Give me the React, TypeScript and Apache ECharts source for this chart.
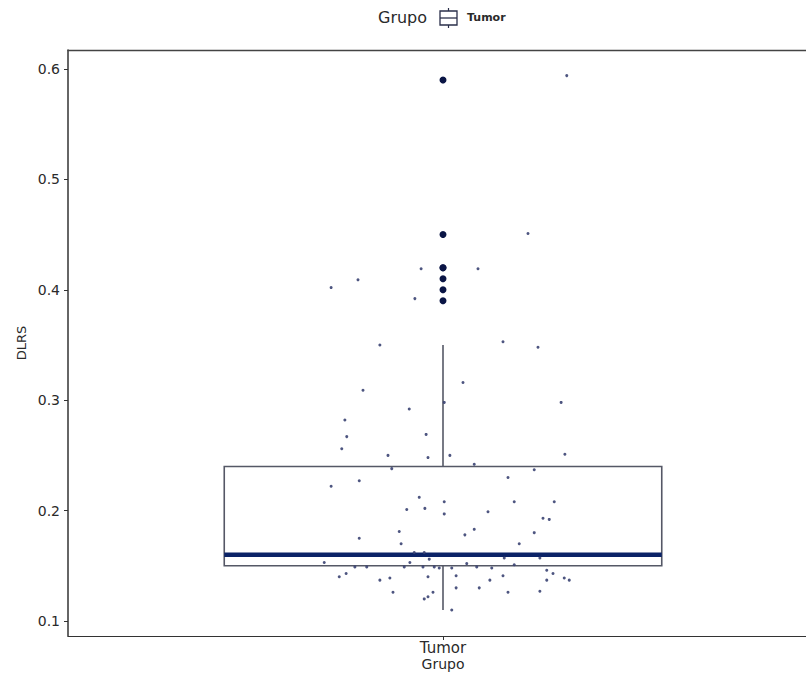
import React, { useEffect, useRef } from "react";
import * as echarts from "echarts";

const categories = ["Tumor"];
// boxplot stats: [lower whisker, Q1, median, Q3, upper whisker]
const boxStats = [0.11, 0.15, 0.16, 0.24, 0.35];
const outliers = [0.59, 0.45, 0.42, 0.42, 0.41, 0.40, 0.39];
// jittered observations: horizontal jitter (in category units) and DLRS value
const jitterX = [
  0.198, 0.136, -0.035, 0.056, -0.136, -0.179, -0.045, -0.101, 0.096, 0.152,
  0.032, -0.128, 0.002, 0.189, -0.054, -0.157, -0.154, -0.027, -0.162, -0.088,
  -0.024, 0.011, 0.195, 0.05, -0.082, 0.146, 0.104, -0.179, -0.134, -0.038,
  0.002, -0.029, -0.058, 0.002, 0.114, 0.178, 0.072, 0.16, 0.17, -0.07,
  -0.134, -0.067, 0.05, 0.146, 0.035, 0.122, -0.046, -0.03, -0.022, -0.19,
  -0.053, 0.098, 0.155, 0.038, 0.114, -0.141, -0.122, -0.062, -0.032, -0.014,
  -0.006, 0.014, 0.054, 0.078, 0.166, 0.176, -0.166, -0.155, -0.101, -0.085,
  -0.024, 0.021, 0.096, 0.075, 0.166, 0.194, 0.202, -0.08, -0.016, -0.024,
  -0.03, 0.021, 0.058, 0.104, 0.155, 0.014,
];
const jitterY = [
  0.594, 0.451, 0.419, 0.419, 0.409, 0.402, 0.392, 0.35, 0.353, 0.348,
  0.316, 0.309, 0.298, 0.298, 0.292, 0.282, 0.267, 0.269, 0.256, 0.25,
  0.248, 0.25, 0.251, 0.242, 0.238, 0.237, 0.23, 0.222, 0.227, 0.212,
  0.208, 0.202, 0.201, 0.197, 0.208, 0.208, 0.199, 0.193, 0.192, 0.181,
  0.175, 0.17, 0.183, 0.18, 0.178, 0.17, 0.162, 0.162, 0.156, 0.153,
  0.153, 0.157, 0.157, 0.152, 0.151, 0.149, 0.149, 0.149, 0.149, 0.149,
  0.148, 0.148, 0.149, 0.148, 0.146, 0.143, 0.14, 0.143, 0.137, 0.139,
  0.14, 0.141, 0.141, 0.137, 0.137, 0.139, 0.137, 0.126, 0.126, 0.122,
  0.12, 0.13, 0.13, 0.126, 0.127, 0.11,
];

const FONT = "'DejaVu Sans', 'Liberation Sans', Arial, sans-serif";
const BOX_HALF = 0.35;
const TXT = "#2a2a2a";

export default function App() {
  const ref = useRef<HTMLDivElement>(null);
  useEffect(() => {
    if (!ref.current) return;
    const chart = echarts.init(ref.current, null, { renderer: "svg" });
    const center = 1;
    const option: any = {
      animation: false,
      backgroundColor: "#ffffff",
      textStyle: { fontFamily: FONT },
      grid: {
        left: 68,
        top: 50,
        width: 750,
        height: 586,
        outerBoundsMode: "none",
        containLabel: false,
        show: false,
      },
      xAxis: [
        {
          type: "category",
          data: categories,
          boundaryGap: true,
          axisLine: { show: true, lineStyle: { color: "#333", width: 1.2 } },
          axisTick: { show: true, alignWithLabel: true, length: 4, lineStyle: { color: "#333" } },
          axisLabel: { fontSize: 15, color: TXT, margin: 4, fontFamily: FONT },
          splitLine: { show: false },
          name: "Grupo",
          nameLocation: "middle",
          nameGap: 20,
          nameMoveOverlap: false,
          nameTextStyle: { fontSize: 14, color: TXT, fontFamily: FONT, lineHeight: 15 },
        },
        { type: "value", min: 0.4, max: 1.6, show: false },
        {
          type: "value",
          position: "top",
          min: 0.4,
          max: 1.6,
          axisLine: { show: true, lineStyle: { color: "#444", width: 1.4 } },
          axisTick: { show: false },
          axisLabel: { show: false },
          splitLine: { show: false },
        },
      ],
      yAxis: {
        type: "value",
        min: 0.0864,
        max: 0.6172,
        splitNumber: 5,
        axisLine: { show: true, lineStyle: { color: "#333", width: 1.5 } },
        axisTick: { show: true, length: 4, lineStyle: { color: "#333" } },
        axisLabel: {
          fontSize: 14,
          color: TXT,
          margin: 8,
          fontFamily: FONT,
          showMinLabel: false,
          showMaxLabel: false,
          formatter: (v: number) => {
            const r = Math.round(v * 10) / 10;
            return Math.abs(v - r) < 1e-6 ? r.toFixed(1) : "";
          },
        },
        splitLine: { show: false },
        name: "DLRS",
        nameLocation: "middle",
        nameGap: 40,
        nameMoveOverlap: false,
        nameTextStyle: { fontSize: 13, color: TXT, fontFamily: FONT },
      },
      graphic: [
        { type: "text", left: 378, top: 9, style: { text: "Grupo", fontSize: 16, fill: TXT, fontFamily: FONT } },
        { type: "rect", shape: { x: 440, y: 11, width: 17, height: 14 }, style: { fill: "#fff", stroke: "#2a2f4a", lineWidth: 1.3 } },
        { type: "line", shape: { x1: 440, y1: 18, x2: 457, y2: 18 }, style: { stroke: "#2a2f4a", lineWidth: 1.3 } },
        { type: "line", shape: { x1: 448.5, y1: 8, x2: 448.5, y2: 11 }, style: { stroke: "#2a2f4a", lineWidth: 1.2 } },
        { type: "line", shape: { x1: 448.5, y1: 25, x2: 448.5, y2: 28 }, style: { stroke: "#2a2f4a", lineWidth: 1.2 } },
        { type: "text", left: 467, top: 12, style: { text: "Tumor", fontSize: 11, fontWeight: "bold", fill: TXT, fontFamily: FONT } },
      ],
      series: [
        {
          type: "custom",
          name: "Tumor",
          xAxisIndex: 1,
          yAxisIndex: 0,
          data: [[center, ...boxStats]],
          encode: { x: 0, y: [1, 2, 3, 4, 5] },
          z: 2,
          renderItem: (params: any, api: any) => {
            const cx = api.value(0);
            const lo = api.value(1);
            const q1 = api.value(2);
            const med = api.value(3);
            const q3 = api.value(4);
            const hi = api.value(5);
            const tl = api.coord([cx - BOX_HALF, q3]);
            const br = api.coord([cx + BOX_HALF, q1]);
            const pHi = api.coord([cx, hi]);
            const pQ3 = api.coord([cx, q3]);
            const pQ1 = api.coord([cx, q1]);
            const pLo = api.coord([cx, lo]);
            const mL = api.coord([cx - BOX_HALF, med]);
            const mR = api.coord([cx + BOX_HALF, med]);
            const stroke = "#555866";
            return {
              type: "group",
              children: [
                { type: "line", shape: { x1: pHi[0], y1: pHi[1], x2: pQ3[0], y2: pQ3[1] }, style: { stroke, lineWidth: 1.6 } },
                { type: "line", shape: { x1: pQ1[0], y1: pQ1[1], x2: pLo[0], y2: pLo[1] }, style: { stroke, lineWidth: 1.6 } },
                {
                  type: "rect",
                  shape: { x: tl[0], y: tl[1], width: br[0] - tl[0], height: br[1] - tl[1] },
                  style: { fill: "transparent", stroke, lineWidth: 1.6 },
                },
                { type: "line", shape: { x1: mL[0], y1: mL[1], x2: mR[0], y2: mR[1] }, style: { stroke: "#0b2367", lineWidth: 4.5 } },
              ],
            };
          },
        },
        {
          type: "scatter",
          name: "outliers",
          xAxisIndex: 1,
          yAxisIndex: 0,
          data: outliers.map((v) => [center, v]),
          symbolSize: 7,
          itemStyle: { color: "#0a1545", opacity: 1 },
          z: 3,
        },
        {
          type: "scatter",
          name: "jitter",
          xAxisIndex: 1,
          yAxisIndex: 0,
          data: jitterY.map((v, i) => [center + jitterX[i], v]),
          symbolSize: 3,
          itemStyle: { color: "#3a4272", opacity: 0.9 },
          z: 4,
        },
      ],
    };
    chart.setOption(option);
    return () => chart.dispose();
  }, []);
  return (
    <div
      ref={ref}
      style={{ position: "fixed", left: 0, top: 0, width: 806, height: 673, background: "#fff" }}
    />
  );
}
